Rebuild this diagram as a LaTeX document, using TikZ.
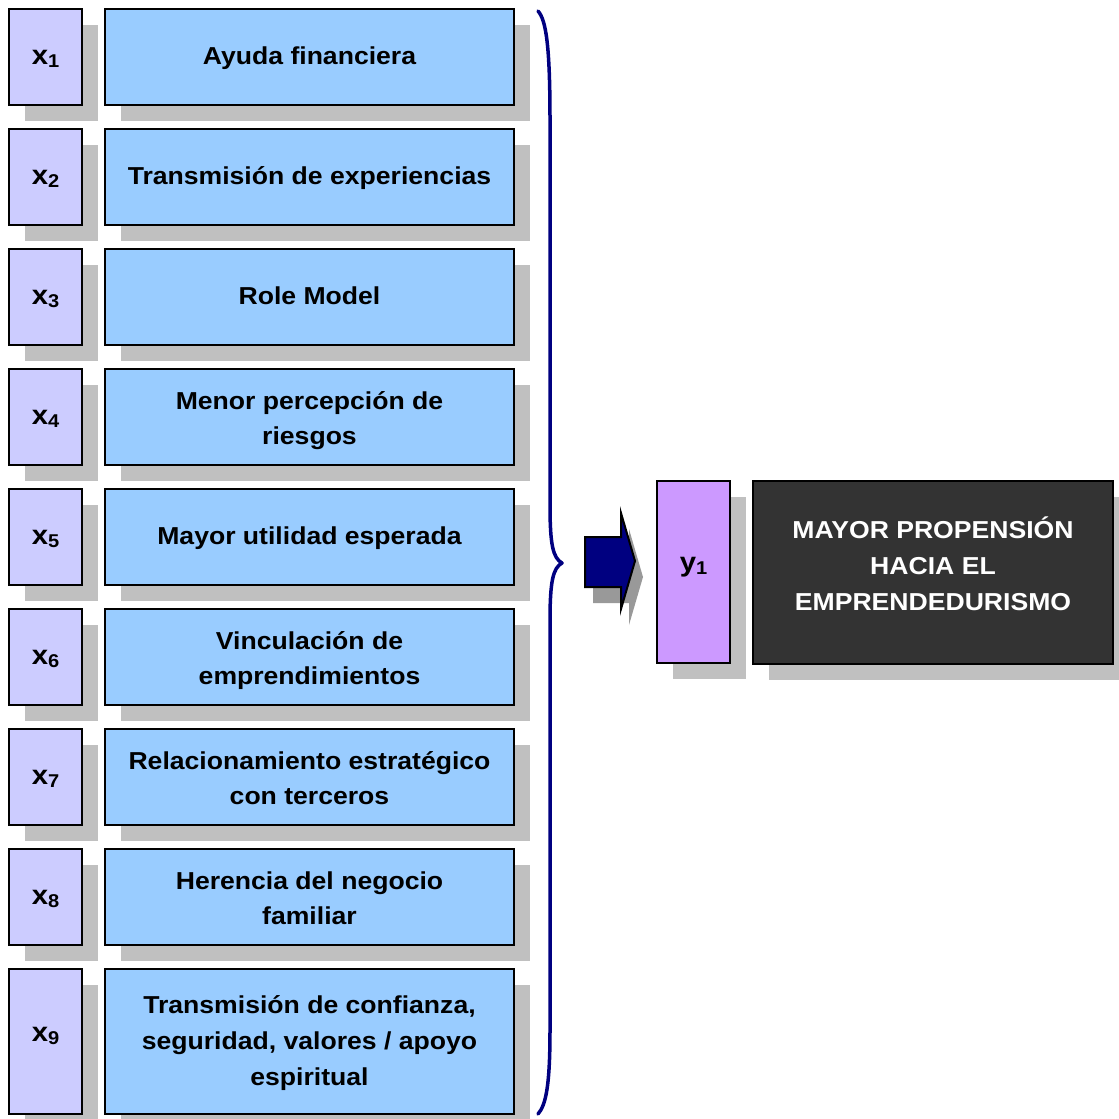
\documentclass[tikz,border=0pt]{standalone}
\usepackage{fontspec}
\setmainfont{Liberation Sans}[FakeStretch=1.085]
\usetikzlibrary{shadows}

\definecolor{varfill}{HTML}{CCCCFF}
\definecolor{factfill}{HTML}{99CCFF}
\definecolor{outfill}{HTML}{CC99FF}
\definecolor{darkfill}{HTML}{333333}
\definecolor{shade}{HTML}{C0C0C0}
\definecolor{arrowshade}{HTML}{999999}
\definecolor{navyblue}{HTML}{000080}

% variable label with a lowered index
\newcommand\varlabel[2]{#1\raisebox{-3pt}{\fontsize{18.5}{18.5}\selectfont #2}}
% centred block of lines with a fixed line pitch
\newcommand\textlines[1]{\begin{tabular}{@{}c@{}}#1\end{tabular}}

\tikzset{
  base/.style={draw=black, line width=2pt, inner sep=0pt,
    copy shadow={shadow xshift=16pt, shadow yshift=-16pt, fill=shade, draw=none}},
  labelfont/.style={font=\fontsize{27}{30}\selectfont\bfseries},
  varbox/.style={base, fill=varfill, minimum width=73pt, labelfont,
    text height=18pt, text depth=2.5pt},
  factbox/.style={base, fill=factfill, minimum width=409pt},
  facttext/.style={inner sep=0pt, font=\fontsize{24.5}{35}\selectfont\bfseries},
  widetext/.style={inner sep=0pt, font=\fontsize{24.5}{36}\selectfont\bfseries},
  outbox/.style={base, fill=outfill, minimum width=73pt, minimum height=182pt,
    labelfont, text height=10pt, text depth=10.5pt},
  resultbox/.style={base, fill=darkfill, minimum width=360pt, minimum height=183pt},
  resulttext/.style={widetext, text=white},
  row/.style={minimum height=96pt},
  tallrow/.style={minimum height=145pt},
  bracecurve/.style={draw=navyblue, line width=3.5pt, line cap=round, line join=round},
  blockarrow/.style={fill=navyblue, draw=black, line width=2pt, line join=miter},
}

\begin{document}
\begin{tikzpicture}[x=1pt, y=-1pt]
\useasboundingbox (0,0) rectangle (1119,1119);

% input variables and their descriptions
\node[varbox, row] (x1) at (45.5,57) {\varlabel{x}{1}};
\node[factbox, row] (f1) at (309.5,57) {};
\node[facttext] (f1t) at (f1) {\textlines{Ayuda financiera}};

\node[varbox, row] (x2) at (45.5,177) {\varlabel{x}{2}};
\node[factbox, row] (f2) at (309.5,177) {};
\node[facttext] (f2t) at (f2) {\textlines{Transmisión de experiencias}};

\node[varbox, row] (x3) at (45.5,297) {\varlabel{x}{3}};
\node[factbox, row] (f3) at (309.5,297) {};
\node[facttext] (f3t) at (f3) {\textlines{Role Model}};

\node[varbox, row] (x4) at (45.5,417) {\varlabel{x}{4}};
\node[factbox, row] (f4) at (309.5,417) {};
\node[facttext, yshift=-3pt] (f4t) at (f4) {\textlines{Menor percepción de\\riesgos}};

\node[varbox, row] (x5) at (45.5,537) {\varlabel{x}{5}};
\node[factbox, row] (f5) at (309.5,537) {};
\node[facttext] (f5t) at (f5) {\textlines{Mayor utilidad esperada}};

\node[varbox, row] (x6) at (45.5,657) {\varlabel{x}{6}};
\node[factbox, row] (f6) at (309.5,657) {};
\node[facttext, yshift=-3pt] (f6t) at (f6) {\textlines{Vinculación de\\emprendimientos}};

\node[varbox, row] (x7) at (45.5,777) {\varlabel{x}{7}};
\node[factbox, row] (f7) at (309.5,777) {};
\node[facttext, yshift=-3pt] (f7t) at (f7) {\textlines{Relacionamiento estratégico\\con terceros}};

\node[varbox, row] (x8) at (45.5,897) {\varlabel{x}{8}};
\node[factbox, row] (f8) at (309.5,897) {};
\node[facttext, yshift=-3pt] (f8t) at (f8) {\textlines{Herencia del negocio\\familiar}};

\node[varbox, tallrow, text height=10pt, text depth=9.5pt] (x9) at (45.5,1041.5) {\varlabel{x}{9}};
\node[factbox, tallrow] (f9) at (309.5,1041.5) {};
\node[widetext, yshift=-0.5pt] (f9t) at (f9)
  {\textlines{Transmisión de confianza,\\seguridad, valores / apoyo\\espiritual}};

% closing brace gathering all inputs
\draw[bracecurve] (538,11)
  .. controls (546,20) and (550,45) .. (550,120)
  -- (550,505)
  .. controls (550,545) and (553,558) .. (562,563)
  .. controls (553,568) and (550,581) .. (550,621)
  -- (550,1030)
  .. controls (550,1085) and (546,1105) .. (538,1114);

% block arrow towards the outcome
\fill[arrowshade] (593,553) -- (629,553) -- (629,529) -- (643,577)
  -- (629,625) -- (629,603) -- (593,603) -- cycle;
\draw[blockarrow] (585,537) -- (621,537) -- (621,513) -- (635,561)
  -- (621,609) -- (621,587) -- (585,587) -- cycle;

% outcome
\node[outbox] (y1) at (693.5,572) {\varlabel{y}{1}};
\node[resultbox] (res) at (933,572.5) {};
\node[resulttext, yshift=5.5pt] (rest) at (res)
  {\textlines{MAYOR PROPENSIÓN\\HACIA EL\\EMPRENDEDURISMO}};
\end{tikzpicture}
\end{document}
